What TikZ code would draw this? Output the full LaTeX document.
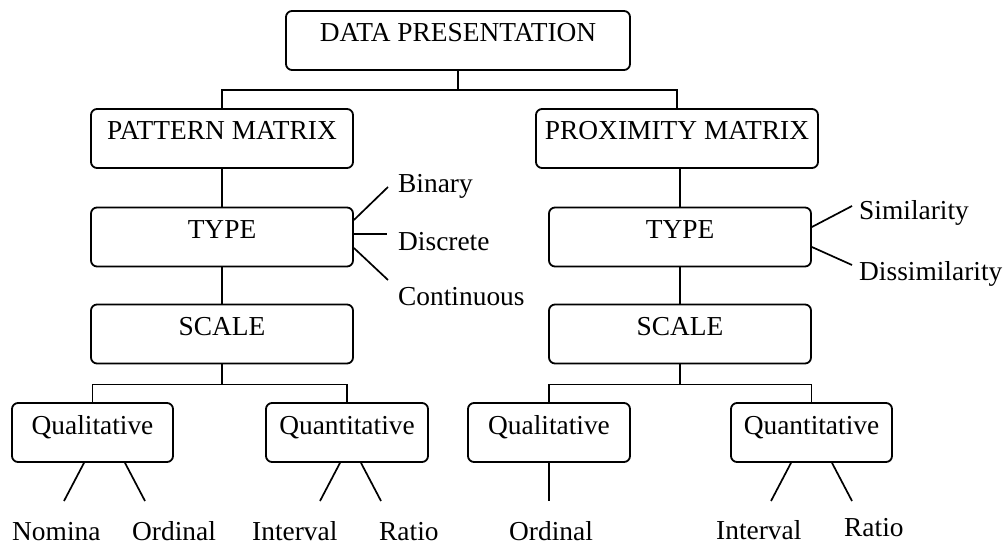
\documentclass[tikz,border=0pt]{standalone}
\usepackage{fontspec}
\setmainfont{Liberation Serif}
\begin{document}
\begin{tikzpicture}[x=1pt,y=-1pt,
  every node/.style={font=\fontsize{27.4}{30}\selectfont},
  box/.style={draw, rounded corners=6pt, line width=1.8pt, inner sep=0pt,
    minimum height=59pt, text height=20pt, text depth=17pt, align=center},
  lbl/.style={anchor=base west, inner sep=0pt},
  link/.style={line width=1.7pt}]
\useasboundingbox (0,0) rectangle (1008,545);

% boxes
\node[box, minimum width=344pt] (dp)  at (458,40.5)  {DATA PRESENTATION};
\node[box, minimum width=262pt] (pm)  at (222,138.5) {PATTERN MATRIX};
\node[box, minimum width=282pt] (xm)  at (677,138.5) {PROXIMITY MATRIX};
\node[box, minimum width=262pt] (t1)  at (222,237)   {TYPE};
\node[box, minimum width=262pt] (t2)  at (680,237)   {TYPE};
\node[box, minimum width=262pt] (s1)  at (222,334)   {SCALE};
\node[box, minimum width=262pt] (s2)  at (680,334)   {SCALE};
\node[box, minimum width=161pt] (ql1) at (92.5,432.5)  {Qualitative};
\node[box, minimum width=162pt] (qn1) at (347,432.5)   {Quantitative};
\node[box, minimum width=162pt] (ql2) at (549,432.5)   {Qualitative};
\node[box, minimum width=161pt] (qn2) at (811.5,432.5) {Quantitative};

% plain labels
\node[lbl] (bin)  at (398,193) {Binary};
\node[lbl] (dis)  at (398,250) {Discrete};
\node[lbl] (con)  at (398,305) {Continuous};
\node[lbl] (sim)  at (859,220) {Similarity};
\node[lbl] (dsim) at (859,280) {Dissimilarity};
\node[lbl] (nom)  at (12,540)  {Nomina};
\node[lbl] (ord1) at (132,540) {Ordinal};
\node[lbl] (int1) at (252,540) {Interval};
\node[lbl] (rat1) at (379,540) {Ratio};
\node[lbl] (ord2) at (509,540) {Ordinal};
\node[lbl] (int2) at (716,539) {Interval};
\node[lbl] (rat2) at (844,536) {Ratio};

% free ends of the short branches
\coordinate (cb)   at (388,187);
\coordinate (cd)   at (387,234);
\coordinate (cc)   at (388,280);
\coordinate (cs)   at (852,206);
\coordinate (cdis) at (852,265);
\coordinate (n1) at (64,501);
\coordinate (o1) at (145,501);
\coordinate (i1) at (320,501);
\coordinate (r1) at (381,501);
\coordinate (o2) at (549,501);
\coordinate (i2) at (771,501);
\coordinate (r2) at (852,501);

% tree connectors
\draw[link] (dp.south) -- ++(0,19) coordinate (j0);
\draw[link] (pm.north) |- (j0) -| (xm.north);
\draw[link] (pm.south) -- (t1.north);
\draw[link] (t1.south) -- (s1.north);
\draw[link] (t2.north) -- (t2.north |- xm.south);
\draw[link] (t2.south) -- (s2.north);
\draw[link] (s1.south) -- ++(0,20) coordinate (j1);
\draw[link] (ql1.north) |- (j1) -| (qn1.north);
\draw[link] (s2.south) -- ++(0,20) coordinate (j2);
\draw[link] (ql2.north) |- (j2) -| (qn2.north);

% type branches
\draw[link] ([yshift=17pt]t1.east) -- (cb);
\draw[link] ([yshift=3pt]t1.east) -- (cd);
\draw[link] ([yshift=-11pt]t1.east) -- (cc);
\draw[link] ([yshift=10pt]t2.east) -- (cs);
\draw[link] ([yshift=-10pt]t2.east) -- (cdis);

% scale branches
\draw[link] ([xshift=-8.5pt]ql1.south) -- (n1);
\draw[link] ([xshift=32.5pt]ql1.south) -- (o1);
\draw[link] ([xshift=-7pt]qn1.south) -- (i1);
\draw[link] ([xshift=14pt]qn1.south) -- (r1);
\draw[link] (ql2.south) -- (o2);
\draw[link] ([xshift=-20.5pt]qn2.south) -- (i2);
\draw[link] ([xshift=20.5pt]qn2.south) -- (r2);
\end{tikzpicture}
\end{document}
